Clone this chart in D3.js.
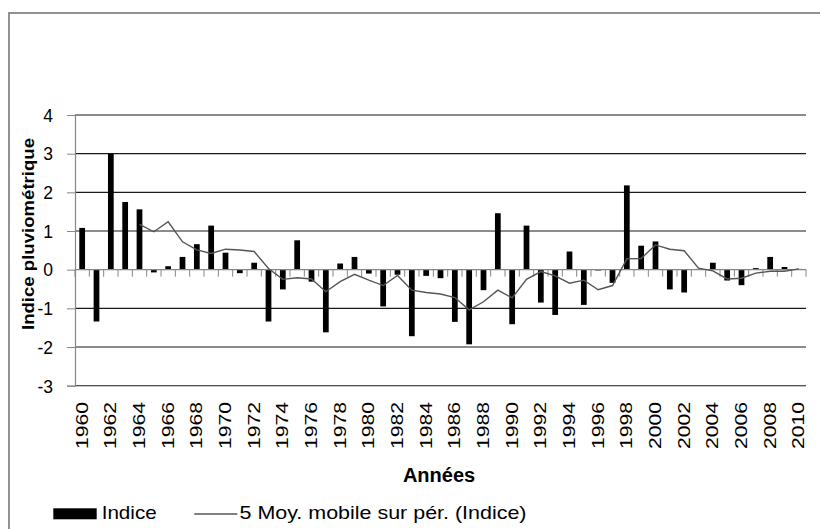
<!DOCTYPE html>
<html>
<head>
<meta charset="utf-8">
<script src="https://cdn.jsdelivr.net/npm/d3@7"></script>
<style>
  html, body { margin: 0; padding: 0; background: #fff; }
  svg { display: block; font-family: "Liberation Sans", Arial, sans-serif; }
</style>
</head>
<body>
<svg id="chart" width="820" height="529"></svg>
<script>
const years = ["1960","1961","1962","1963","1964","1965","1966","1967","1968","1969",
  "1970","1971","1972","1973","1974","1975","1976","1977","1978","1979",
  "1980","1981","1982","1983","1984","1985","1986","1987","1988","1989",
  "1990","1991","1992","1993","1994","1995","1996","1997","1998","1999",
  "2000","2001","2002","2003","2004","2005","2006","2007","2008","2009","2010"];

const indice = [1.08,-1.34,3.00,1.75,1.56,-0.07,0.09,0.33,0.66,1.14,
  0.44,-0.09,0.18,-1.34,-0.51,0.76,-0.31,-1.62,0.16,0.33,
  -0.10,-0.95,-0.13,-1.72,-0.16,-0.22,-1.35,-1.93,-0.53,1.46,
  -1.41,1.14,-0.85,-1.17,0.47,-0.91,-0.02,-0.34,2.18,0.62,
  0.73,-0.51,-0.59,0.02,0.18,-0.28,-0.40,0.04,0.33,0.07,0.02];

const moyMobile = [null,null,null,null,1.17,0.98,1.24,0.72,0.51,0.42,
  0.53,0.51,0.47,0.03,-0.25,-0.21,-0.24,-0.57,-0.31,-0.12,
  -0.27,-0.41,-0.15,-0.53,-0.59,-0.63,-0.72,-1.04,-0.83,-0.53,
  -0.73,-0.25,-0.05,-0.16,-0.35,-0.27,-0.52,-0.41,0.28,0.29,
  0.64,0.53,0.49,0.04,-0.03,-0.24,-0.22,-0.09,-0.04,-0.04,0.02];

const yTicks = [-3,-2,-1,0,1,2,3,4];
const yTickLabels = ["-3","-2","-1","0","1","2","3","4"];
const xTickLabels = years.filter((d,i) => i % 2 === 0);

const yTitle = "Indice pluviométrique";
const xTitle = "Années";
const legendBar = "Indice";
const legendLine = "5 Moy. mobile sur pér. (Indice)";

(function draw() {
const svg = d3.select("#chart");
const pLeft = 75, pRight = 806, pTop = 115, pBottom = 385.7;

// chart border
svg.append("rect").attr("x", 9).attr("y", 13).attr("width", 830).attr("height", 540)
  .attr("fill", "none").attr("stroke", "#868686").attr("stroke-width", 1.8);

const x = d3.scaleBand().domain(years).range([pLeft, pRight])
  .paddingInner(0.6).paddingOuter(0.3);
const y = d3.scaleLinear().domain([-3, 4]).range([pBottom, pTop]);
const step = x.step();
const cx = d => x(d) + x.bandwidth() / 2;

// gridlines
svg.append("g").selectAll("line").data(yTicks.filter(d => d !== 0)).join("line")
  .attr("x1", pLeft).attr("x2", pRight)
  .attr("y1", d => y(d)).attr("y2", d => y(d))
  .attr("stroke", "#1a1a1a").attr("stroke-width", 1.1);

// y axis
const yAxis = d3.axisLeft(y).tickValues(yTicks).tickSize(8).tickPadding(14)
  .tickFormat((d,i) => yTickLabels[i]);
const gy = svg.append("g").attr("transform", `translate(${pLeft},0)`).call(yAxis);
gy.select(".domain").attr("stroke", "#868686").attr("stroke-width", 1.2);
gy.selectAll(".tick line").attr("stroke", "#868686");
gy.selectAll(".tick text").attr("font-size", 17.5).attr("fill", "#000")
  .attr("font-family", "Liberation Sans, Arial, sans-serif").attr("dy", "0.36em");

// bars
svg.append("g").selectAll("rect").data(years).join("rect")
  .attr("x", d => x(d))
  .attr("width", x.bandwidth())
  .attr("y", (d,i) => y(Math.max(0, indice[i])))
  .attr("height", (d,i) => Math.abs(y(indice[i]) - y(0)))
  .attr("fill", "#000");

// zero (category) axis line with ticks at category boundaries
svg.append("line").attr("x1", pLeft).attr("x2", pRight).attr("y1", y(0)).attr("y2", y(0))
  .attr("stroke", "#868686").attr("stroke-width", 1.2);
const boundaries = d3.range(years.length + 1).map(i => pLeft + i * step);
svg.append("g").selectAll("line").data(boundaries).join("line")
  .attr("x1", d => d).attr("x2", d => d)
  .attr("y1", y(0)).attr("y2", y(0) + 7)
  .attr("stroke", "#868686").attr("stroke-width", 1);

// moving average line
const line = d3.line()
  .defined((d,i) => moyMobile[i] !== null)
  .x(d => cx(d))
  .y((d,i) => y(moyMobile[i]));
svg.append("path").datum(years).attr("d", line)
  .attr("fill", "none").attr("stroke", "#555").attr("stroke-width", 1.4);

// x labels
svg.append("g").selectAll("text").data(xTickLabels).join("text")
  .attr("transform", d => `translate(${cx(d) + 5.5},402) rotate(-90)`)
  .attr("text-anchor", "end")
  .attr("font-size", 16)
  .attr("textLength", 47).attr("lengthAdjust", "spacingAndGlyphs")
  .text(d => d);

// axis titles
svg.append("text").attr("transform", "translate(33.5,234) rotate(-90)")
  .attr("text-anchor", "middle").attr("font-weight", "bold").attr("font-size", 17)
  .attr("textLength", 192).attr("lengthAdjust", "spacingAndGlyphs")
  .text(yTitle);
svg.append("text").attr("x", 439).attr("y", 481.5)
  .attr("text-anchor", "middle").attr("font-weight", "bold").attr("font-size", 20)
  .text(xTitle);

// legend
svg.append("rect").attr("x", 53.3).attr("y", 508.3).attr("width", 43.4).attr("height", 11).attr("fill", "#000");
svg.append("text").attr("x", 101.7).attr("y", 519.3).attr("font-size", 18.5)
  .attr("textLength", 55).attr("lengthAdjust", "spacingAndGlyphs").text(legendBar);
svg.append("line").attr("x1", 194.3).attr("x2", 237.3).attr("y1", 514).attr("y2", 514)
  .attr("stroke", "#555").attr("stroke-width", 1.4);
svg.append("text").attr("x", 239.5).attr("y", 519.3).attr("font-size", 18.5)
  .attr("textLength", 287).attr("lengthAdjust", "spacingAndGlyphs").text(legendLine);
})();
</script>
</body>
</html>
